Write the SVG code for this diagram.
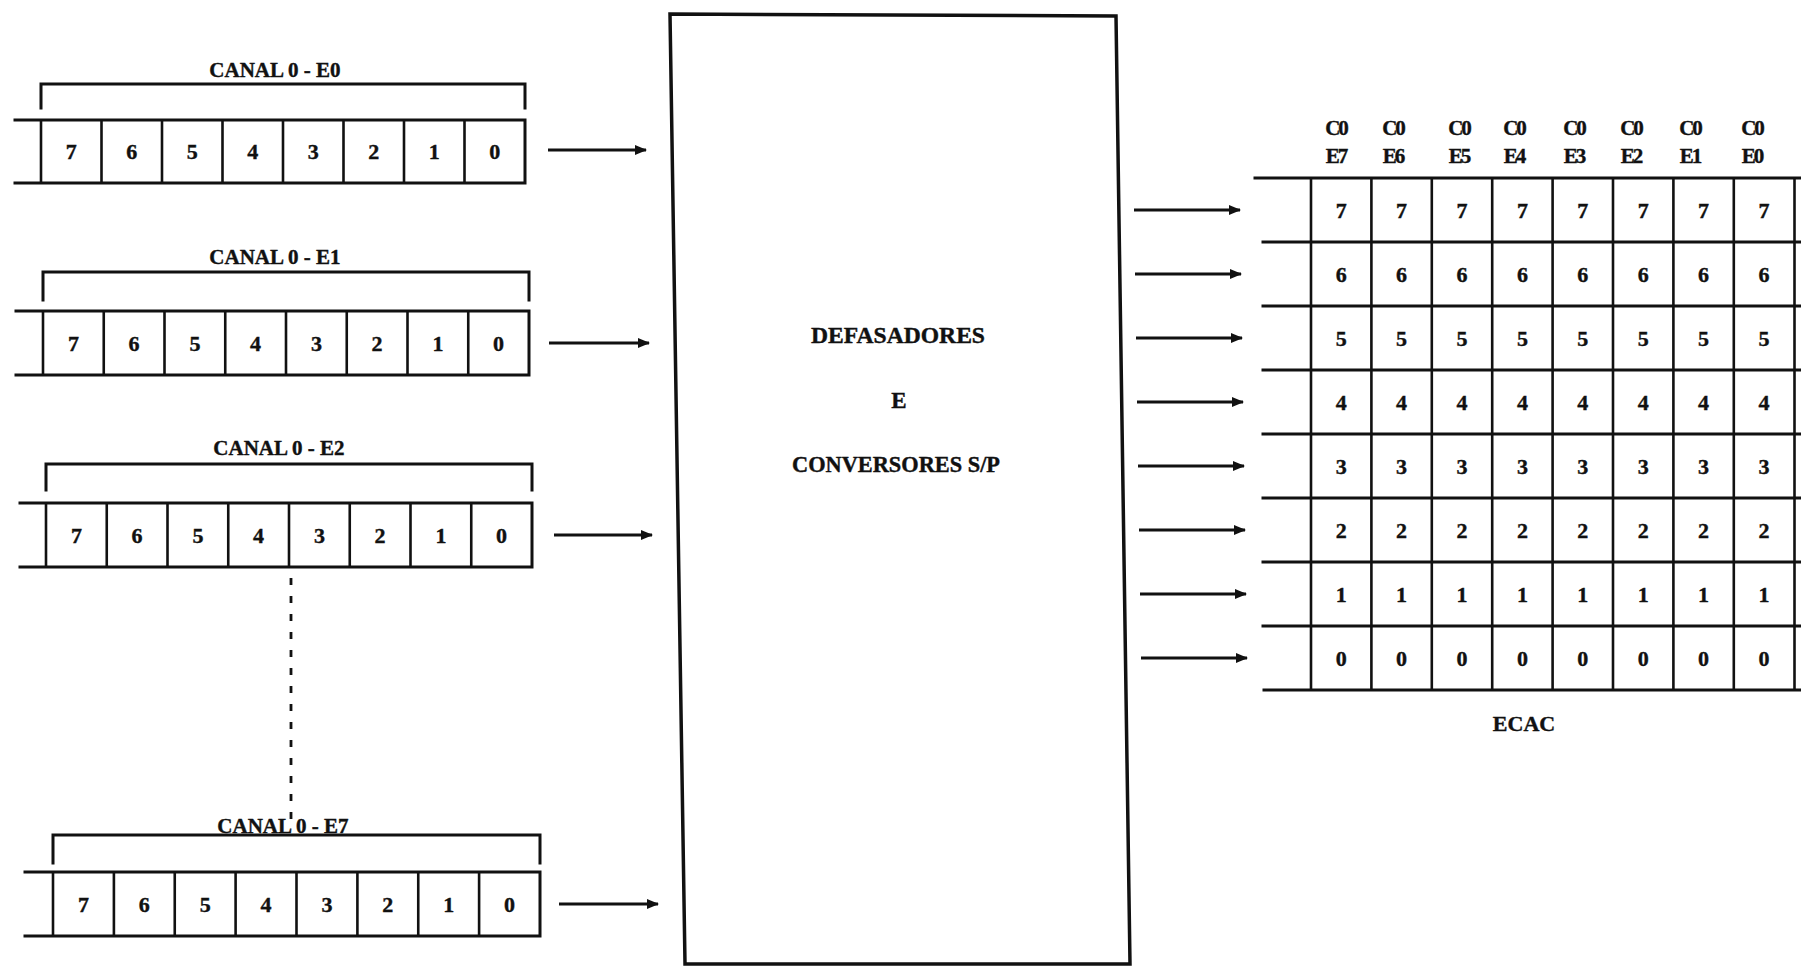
<svg xmlns="http://www.w3.org/2000/svg" width="1801" height="970" viewBox="0 0 1801 970">
<defs>
<style>
.ln{fill:none;stroke:#111;stroke-width:3;stroke-linecap:square}
.dv{fill:none;stroke:#111;stroke-width:2.6}
.t{font-family:"Liberation Serif",serif;font-weight:bold;fill:#111;text-anchor:middle;stroke:#111;stroke-width:0.4}
.lab{font-size:21px}
.dg{font-size:22px}
.big{font-size:23px}
.hd{font-size:21px;letter-spacing:-2px}
.ar{stroke:#111;stroke-width:3;fill:none;marker-end:url(#ah)}
.dash{stroke:#111;stroke-width:2.8;stroke-dasharray:7 11;fill:none}
</style>
<marker id="ah" viewBox="0 0 12 10" refX="11" refY="5" markerWidth="12" markerHeight="10" markerUnits="userSpaceOnUse" orient="auto">
<path d="M0,0 L12,5 L0,10 z" fill="#111"/>
</marker>
</defs>
<rect width="1801" height="970" fill="#fff"/>

<g id="reg-e0">
<text class="t lab" x="275" y="77">CANAL 0 - E0</text>
<path class="ln" d="M41,108 V84 H525 V108"/>
<path class="ln" d="M15,120 H525 V183 H15"/>
<path class="dv" d="M41,120 V183 M101.5,120 V183 M162,120 V183 M222.5,120 V183 M283,120 V183 M343.5,120 V183 M404,120 V183 M464.5,120 V183"/>
<g class="t dg">
<text x="71.3" y="159">7</text><text x="131.8" y="159">6</text><text x="192.3" y="159">5</text><text x="252.8" y="159">4</text><text x="313.3" y="159">3</text><text x="373.8" y="159">2</text><text x="434.3" y="159">1</text><text x="494.8" y="159">0</text>
</g>
</g>

<g id="reg-e1">
<text class="t lab" x="275" y="264">CANAL 0 - E1</text>
<path class="ln" d="M43,300 V272 H529 V300"/>
<path class="ln" d="M16,311 H529 V375 H16"/>
<path class="dv" d="M43,311 V375 M103.75,311 V375 M164.5,311 V375 M225.25,311 V375 M286,311 V375 M346.75,311 V375 M407.5,311 V375 M468.25,311 V375"/>
<g class="t dg">
<text x="73.4" y="350.5">7</text><text x="134.1" y="350.5">6</text><text x="194.9" y="350.5">5</text><text x="255.6" y="350.5">4</text><text x="316.4" y="350.5">3</text><text x="377.1" y="350.5">2</text><text x="437.9" y="350.5">1</text><text x="498.6" y="350.5">0</text>
</g>
</g>

<g id="reg-e2">
<text class="t lab" x="279" y="455">CANAL 0 - E2</text>
<path class="ln" d="M46,490 V464 H532 V490"/>
<path class="ln" d="M20,503 H532 V567 H20"/>
<path class="dv" d="M46,503 V567 M106.75,503 V567 M167.5,503 V567 M228.25,503 V567 M289,503 V567 M349.75,503 V567 M410.5,503 V567 M471.25,503 V567"/>
<g class="t dg">
<text x="76.4" y="542.5">7</text><text x="137.1" y="542.5">6</text><text x="197.9" y="542.5">5</text><text x="258.6" y="542.5">4</text><text x="319.4" y="542.5">3</text><text x="380.1" y="542.5">2</text><text x="440.9" y="542.5">1</text><text x="501.6" y="542.5">0</text>
</g>
</g>

<g id="reg-e7">
<text class="t lab" x="283" y="833">CANAL 0 - E7</text>
<path class="ln" d="M53,863 V835 H540 V863"/>
<path class="ln" d="M25,872 H540 V936 H25"/>
<path class="dv" d="M53,872 V936 M113.9,872 V936 M174.75,872 V936 M235.6,872 V936 M296.5,872 V936 M357.4,872 V936 M418.25,872 V936 M479.1,872 V936"/>
<g class="t dg">
<text x="83.4" y="911.5">7</text><text x="144.3" y="911.5">6</text><text x="205.2" y="911.5">5</text><text x="266.1" y="911.5">4</text><text x="326.9" y="911.5">3</text><text x="387.8" y="911.5">2</text><text x="448.7" y="911.5">1</text><text x="509.6" y="911.5">0</text>
</g>
</g>

<g id="converter">
<polygon points="670,14 1116,16 1130,964 685,964" fill="none" stroke="#111" stroke-width="3.5"/>
<text class="t big" x="898" y="343" textLength="174" lengthAdjust="spacingAndGlyphs">DEFASADORES</text>
<text class="t big" x="899" y="408">E</text>
<text class="t big" x="896" y="472" textLength="208" lengthAdjust="spacingAndGlyphs">CONVERSORES S/P</text>
</g>

<g id="ecac">
<g class="t hd">
<text x="1336" y="135">C0</text><text x="1393" y="135">C0</text><text x="1459" y="135">C0</text><text x="1514" y="135">C0</text><text x="1574" y="135">C0</text><text x="1631" y="135">C0</text><text x="1690" y="135">C0</text><text x="1752" y="135">C0</text>
<text x="1336" y="163">E7</text><text x="1393" y="163">E6</text><text x="1459" y="163">E5</text><text x="1514" y="163">E4</text><text x="1574" y="163">E3</text><text x="1631" y="163">E2</text><text x="1690" y="163">E1</text><text x="1752" y="163">E0</text>
</g>
<path class="ln" d="M1255,178 H1801 M1263,242 H1801 M1263,306 H1801 M1263,370 H1801 M1263,434 H1801 M1263,498 H1801 M1263,562 H1801 M1263,626 H1801 M1264,690 H1801"/>
<path class="dv" d="M1311,178 V690 M1371.4,178 V690 M1431.8,178 V690 M1492.2,178 V690 M1552.6,178 V690 M1613,178 V690 M1673.4,178 V690 M1733.8,178 V690 M1794.5,178 V690"/>
<g class="t dg">
<text x="1341.2" y="217.5">7</text><text x="1401.6" y="217.5">7</text><text x="1462" y="217.5">7</text><text x="1522.4" y="217.5">7</text><text x="1582.8" y="217.5">7</text><text x="1643.2" y="217.5">7</text><text x="1703.6" y="217.5">7</text><text x="1764" y="217.5">7</text>
<text x="1341.2" y="281.5">6</text><text x="1401.6" y="281.5">6</text><text x="1462" y="281.5">6</text><text x="1522.4" y="281.5">6</text><text x="1582.8" y="281.5">6</text><text x="1643.2" y="281.5">6</text><text x="1703.6" y="281.5">6</text><text x="1764" y="281.5">6</text>
<text x="1341.2" y="345.5">5</text><text x="1401.6" y="345.5">5</text><text x="1462" y="345.5">5</text><text x="1522.4" y="345.5">5</text><text x="1582.8" y="345.5">5</text><text x="1643.2" y="345.5">5</text><text x="1703.6" y="345.5">5</text><text x="1764" y="345.5">5</text>
<text x="1341.2" y="409.5">4</text><text x="1401.6" y="409.5">4</text><text x="1462" y="409.5">4</text><text x="1522.4" y="409.5">4</text><text x="1582.8" y="409.5">4</text><text x="1643.2" y="409.5">4</text><text x="1703.6" y="409.5">4</text><text x="1764" y="409.5">4</text>
<text x="1341.2" y="473.5">3</text><text x="1401.6" y="473.5">3</text><text x="1462" y="473.5">3</text><text x="1522.4" y="473.5">3</text><text x="1582.8" y="473.5">3</text><text x="1643.2" y="473.5">3</text><text x="1703.6" y="473.5">3</text><text x="1764" y="473.5">3</text>
<text x="1341.2" y="537.5">2</text><text x="1401.6" y="537.5">2</text><text x="1462" y="537.5">2</text><text x="1522.4" y="537.5">2</text><text x="1582.8" y="537.5">2</text><text x="1643.2" y="537.5">2</text><text x="1703.6" y="537.5">2</text><text x="1764" y="537.5">2</text>
<text x="1341.2" y="601.5">1</text><text x="1401.6" y="601.5">1</text><text x="1462" y="601.5">1</text><text x="1522.4" y="601.5">1</text><text x="1582.8" y="601.5">1</text><text x="1643.2" y="601.5">1</text><text x="1703.6" y="601.5">1</text><text x="1764" y="601.5">1</text>
<text x="1341.2" y="665.5">0</text><text x="1401.6" y="665.5">0</text><text x="1462" y="665.5">0</text><text x="1522.4" y="665.5">0</text><text x="1582.8" y="665.5">0</text><text x="1643.2" y="665.5">0</text><text x="1703.6" y="665.5">0</text><text x="1764" y="665.5">0</text>
</g>
<text class="t dg" x="1524" y="731">ECAC</text>
</g>

<g id="connectors">
<line class="ar" x1="548" y1="150" x2="646" y2="150"/>
<line class="ar" x1="549" y1="343" x2="649" y2="343"/>
<line class="ar" x1="554" y1="535" x2="652" y2="535"/>
<line class="ar" x1="559" y1="904" x2="658" y2="904"/>
<line class="ar" x1="1134" y1="210" x2="1240" y2="210"/>
<line class="ar" x1="1135" y1="274" x2="1241" y2="274"/>
<line class="ar" x1="1136" y1="338" x2="1242" y2="338"/>
<line class="ar" x1="1137" y1="402" x2="1243" y2="402"/>
<line class="ar" x1="1138" y1="466" x2="1244" y2="466"/>
<line class="ar" x1="1139" y1="530" x2="1245" y2="530"/>
<line class="ar" x1="1140" y1="594" x2="1246" y2="594"/>
<line class="ar" x1="1141" y1="658" x2="1247" y2="658"/>
<line class="dash" x1="291" y1="578" x2="291" y2="830"/>
</g>
</svg>
